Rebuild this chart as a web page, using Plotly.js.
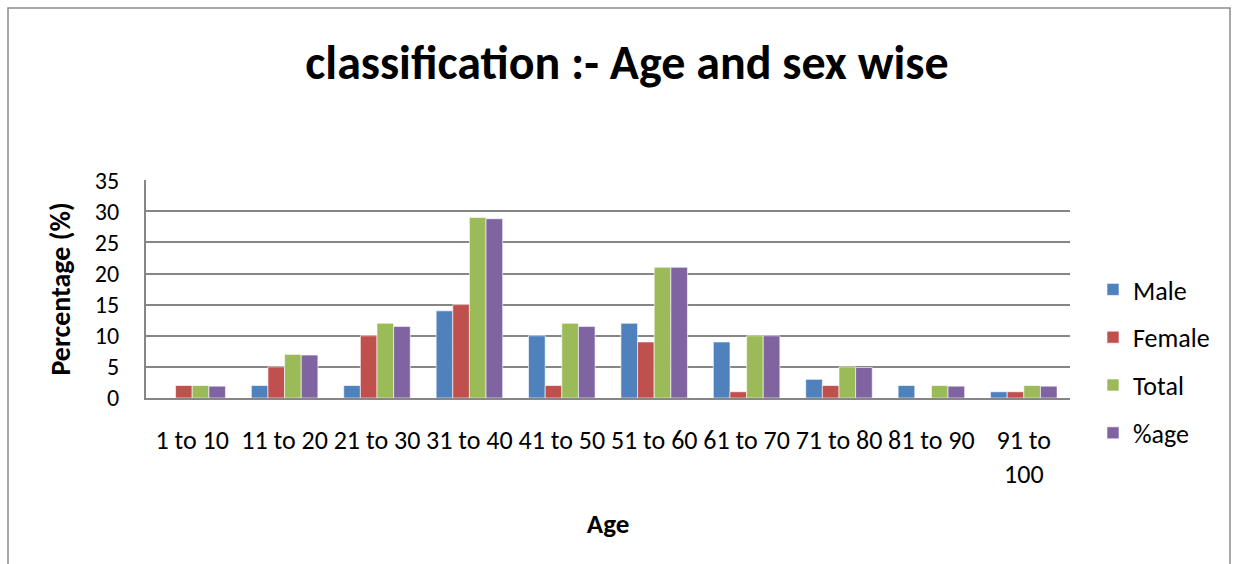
<!DOCTYPE html>
<html>
<head>
<meta charset="utf-8">
<script src="https://cdn.plot.ly/plotly-3.0.1.min.js"></script>
<style>html,body{margin:0;padding:0;background:#fff;} #chart{width:1239px;height:564px;}</style>
</head>
<body>
<div id="chart"></div>
<script>
const categories = ["1 to 10","11 to 20","21 to 30","31 to 40","41 to 50","51 to 60","61 to 70","71 to 80","81 to 90","91 to<br>100"];
const male   = [0, 2, 2, 14, 10, 12, 9, 3, 2, 1];
const female = [2, 5, 10, 15, 2, 9, 1, 2, 0, 1];
const total  = [2, 7, 12, 29, 12, 21, 10, 5, 2, 2];
const pctAge = [1.9, 6.9, 11.5, 28.8, 11.5, 21, 10, 4.9, 1.9, 1.9];
const seriesNames = ["Male","Female","Total","%age"];
const colors = ["#4f81bd","#c0504d","#9bbb59","#8064a2"];

const font = "Carlito, Calibri, Lato, 'Open Sans', sans-serif";
const data = [male, female, total, pctAge].map((v, i) => ({
  type: "bar",
  x: categories,
  y: v,
  name: seriesNames[i],
  legendgroup: "g" + i,
  marker: {color: colors[i], line: {color: "#ffffff", width: 0.6}}
}));

const layout = {
  width: 1239, height: 564,
  margin: {l: 146, r: 169, t: 180, b: 166},
  paper_bgcolor: "#ffffff", plot_bgcolor: "#ffffff",
  font: {family: font, color: "#000", size: 24},
  title: {text: "<b>classification :- Age and sex wise</b>", font: {size: 48, family: font, color: "#000"},
          x: 0.506, xref: "container", xanchor: "center", y: 1 - 62/564, yref: "container", yanchor: "middle"},
  barmode: "group", bargap: 0.28, bargroupgap: 0,
  xaxis: {
    type: "category",
    showgrid: false, zeroline: false,
    showline: true, linecolor: "#868686", linewidth: 2,
    ticks: "", tickfont: {size: 26, family: font},
    ticklabelstandoff: 18,
    title: {text: "<b>Age</b>", font: {size: 27, family: font}, standoff: 25}
  },
  yaxis: {
    range: [0, 35.02], dtick: 5, tick0: 0,
    showgrid: true, gridcolor: "#868686", gridwidth: 2,
    zeroline: false,
    showline: true, linecolor: "#868686", linewidth: 2,
    ticks: "",
    tickfont: {size: 24, family: font},
    ticklabelstandoff: 20,
    title: {text: "<b>Percentage (%)</b>", font: {size: 28, family: font}, standoff: 16}
  },
  showlegend: true,
  legend: {
    x: (1093 - 146) / 924, xanchor: "left",
    y: (398 - 361.5) / 218, yanchor: "middle",
    traceorder: "grouped", tracegroupgap: 11,
    font: {size: 26, family: font},
    bgcolor: "rgba(0,0,0,0)"
  },
  shapes: [{
    type: "rect", xref: "paper", yref: "paper",
    x0: (8 - 146) / 924, x1: (1230 - 146) / 924,
    y0: (398 - 580) / 218, y1: (398 - 8) / 218,
    line: {color: "#8c8c8c", width: 1.5}, fillcolor: "rgba(0,0,0,0)", layer: "below"
  }]
};

Plotly.newPlot("chart", data, layout, {displayModeBar: false, staticPlot: true});
</script>
</body>
</html>
